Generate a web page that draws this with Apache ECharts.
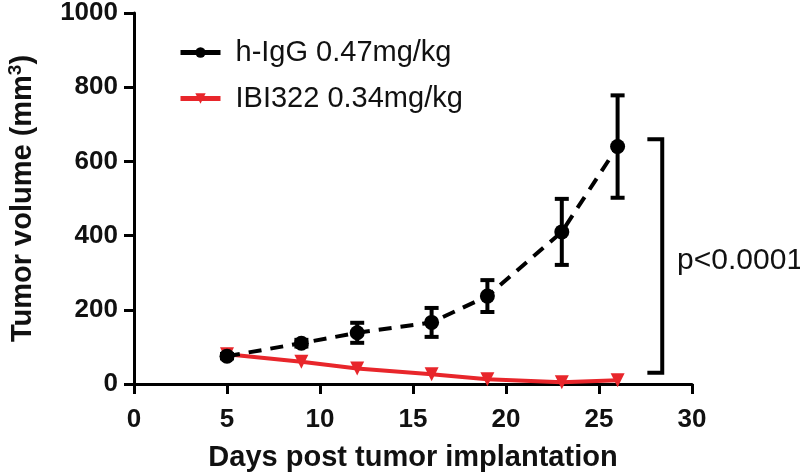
<!DOCTYPE html>
<html><head><meta charset="utf-8">
<script src="https://cdn.jsdelivr.net/npm/echarts@6/dist/echarts.min.js"></script>
<style>html,body{margin:0;padding:0;background:#fff}#c{width:800px;height:475px}</style>
</head><body><div id="c"></div>
<script>
const days = [5, 9, 12, 16, 19, 23, 26];
const iggMean = [75, 110, 138, 166, 237, 410, 640];
const iggErr = [6, 9, 27, 39, 43, 89, 138];
const ibiMean = [80, 60, 42, 26, 13, 5, 10];
const xTicks = [0, 5, 10, 15, 20, 25, 30];
const yTicks = [0, 200, 400, 600, 800, 1000];
const seriesNames = ['h-IgG 0.47mg/kg', 'IBI322 0.34mg/kg'];
const bracket = {x: 28.4, tickX: 27.6, yTop: 660, yBottom: 30, label: 'p<0.0001', labelX: 29.2, labelY: 331};

const FONT = 'Liberation Sans, Arial, sans-serif';
const chart = echarts.init(document.getElementById('c'), null, {renderer: 'canvas'});

const errData = days.map((d, i) => [d, iggMean[i] - iggErr[i], iggMean[i] + iggErr[i]]);

chart.setOption({
  animation: false,
  backgroundColor: '#fff',
  grid: {left: 134, right: 108, top: 13, bottom: 91, containLabel: false, outerBoundsMode: 'none'},
  legend: {
    left: 173, top: 33, orient: 'vertical', itemGap: 17,
    itemWidth: 40, itemHeight: 13,
    textStyle: {fontFamily: FONT, fontSize: 29, color: '#111', padding: [0, 0, 0, 10]},
    data: [
      {name: seriesNames[0], lineStyle: {type: 'solid', width: 5}},
      {name: seriesNames[1], lineStyle: {type: 'solid', width: 5}}
    ]
  },
  xAxis: {
    type: 'value', min: 0, max: 30, interval: 5,
    name: 'Days post tumor implantation', nameLocation: 'middle', nameGap: 59,
    nameTextStyle: {fontFamily: FONT, fontWeight: 'bold', fontSize: 29, color: '#111'},
    axisLine: {show: true, onZero: false, lineStyle: {color: '#000', width: 3}},
    axisTick: {show: true, length: 10, lineStyle: {color: '#000', width: 3}},
    axisLabel: {fontFamily: FONT, fontWeight: 'bold', fontSize: 26, color: '#111', margin: 23,
      formatter: v => xTicks.includes(v) ? String(v) : ''},
    splitLine: {show: false}
  },
  yAxis: {
    type: 'value', min: 0, max: 1000, interval: 200,
    name: 'Tumor volume (mm{sup|3})', nameLocation: 'middle', nameGap: 95,
    nameTextStyle: {fontFamily: FONT, fontWeight: 'bold', fontSize: 29, color: '#111',
      rich: {sup: {fontFamily: FONT, fontWeight: 'bold', fontSize: 19, color: '#111', padding: [0, 0, 14, 0]}}},
    axisLine: {show: true, lineStyle: {color: '#000', width: 3}},
    axisTick: {show: true, length: 10, lineStyle: {color: '#000', width: 3}},
    axisLabel: {fontFamily: FONT, fontWeight: 'bold', fontSize: 26, color: '#111', margin: 16,
      formatter: v => yTicks.includes(v) ? String(v) : ''},
    splitLine: {show: false}
  },
  series: [
    {
      name: seriesNames[1], type: 'line', data: days.map((d, i) => [d, ibiMean[i]]),
      symbol: 'triangle', symbolRotate: 180, symbolSize: 14,
      lineStyle: {color: '#e8262b', width: 4},
      itemStyle: {color: '#e8262b'}, z: 3
    },
    {
      name: seriesNames[0], type: 'line', data: days.map((d, i) => [d, iggMean[i]]),
      symbol: 'circle', symbolSize: 15,
      lineStyle: {color: '#000', width: 4, type: [13, 9]},
      itemStyle: {color: '#000'}, z: 4
    },
    {
      type: 'custom', data: errData, z: 5, silent: true,
      renderItem: (params, api) => {
        const x = api.value(0);
        const lo = api.coord([x, api.value(1)]);
        const hi = api.coord([x, api.value(2)]);
        const hw = 7;
        const st = {stroke: '#000', lineWidth: 4};
        return {type: 'group', children: [
          {type: 'line', shape: {x1: lo[0], y1: lo[1], x2: hi[0], y2: hi[1]}, style: st},
          {type: 'line', shape: {x1: lo[0] - hw, y1: lo[1], x2: lo[0] + hw, y2: lo[1]}, style: st},
          {type: 'line', shape: {x1: hi[0] - hw, y1: hi[1], x2: hi[0] + hw, y2: hi[1]}, style: st}
        ]};
      }
    },
    {
      type: 'custom', data: [[bracket.x, bracket.yBottom, bracket.yTop, bracket.tickX]], z: 5, silent: true,
      renderItem: (params, api) => {
        const top = api.coord([api.value(0), api.value(2)]);
        const bot = api.coord([api.value(0), api.value(1)]);
        const tx = api.coord([api.value(3), 0])[0];
        const lp = api.coord([bracket.labelX, bracket.labelY]);
        return {type: 'group', children: [
          {type: 'polyline', shape: {points: [[tx, top[1]], [top[0], top[1]], [bot[0], bot[1]], [tx, bot[1]]]},
            style: {stroke: '#000', lineWidth: 4, fill: null, lineJoin: 'miter'}},
          {type: 'text', x: lp[0], y: lp[1],
            style: {text: bracket.label, fontFamily: FONT, fontSize: 30, fill: '#111', align: 'left', verticalAlign: 'middle'}}
        ]};
      }
    }
  ]
});
</script></body></html>
